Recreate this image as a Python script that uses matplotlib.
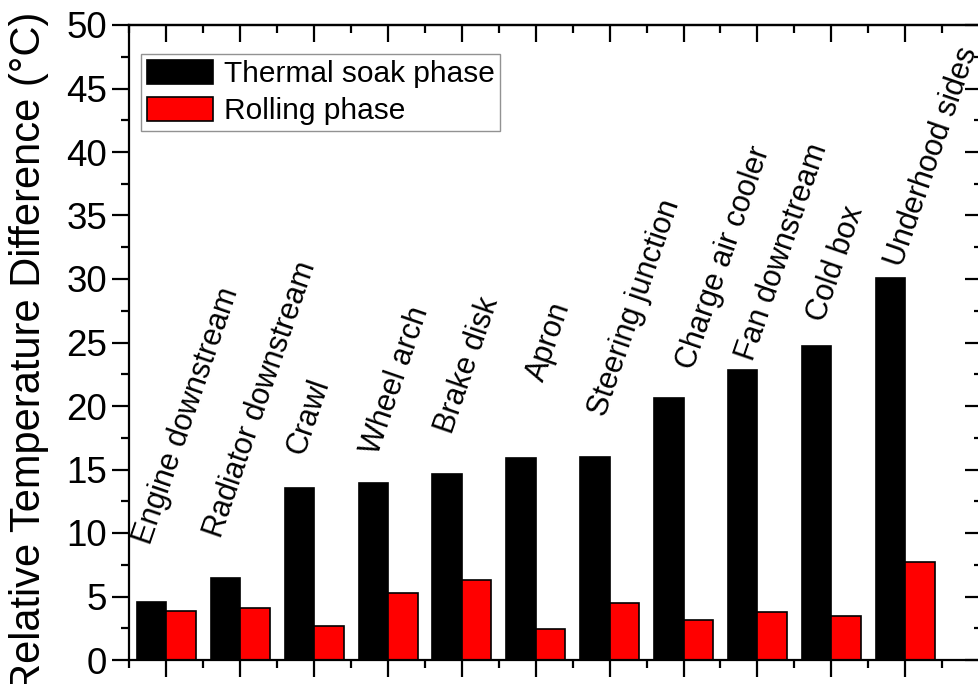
import numpy as np
import matplotlib.pyplot as plt
from matplotlib.ticker import MultipleLocator, FixedLocator, NullFormatter

plt.rcParams['font.family'] = ['Liberation Sans', 'DejaVu Sans']

# data
locations = ["Engine downstream", "Radiator downstream", "Crawl", "Wheel arch",
             "Brake disk", "Apron", "Steering junction", "Charge air cooler",
             "Fan downstream", "Cold box", "Underhood sides"]
thermal_soak = [4.55, 6.45, 13.55, 13.95, 14.65, 15.9, 15.95, 20.6, 22.8, 24.7, 30.05]
rolling = [3.85, 4.1, 2.7, 5.3, 6.3, 2.45, 4.5, 3.15, 3.8, 3.45, 7.7]

# where each rotated category label starts (offset from group centre, height)
label_dx = [-0.22, -0.26, -0.14, -0.13, -0.14, 0.10, -0.06, 0.13, -0.06, -0.10, -0.04]
label_y = [9.0, 9.5, 16.1, 16.1, 17.7, 21.8, 19.1, 22.8, 23.5, 26.5, 30.9]

x = np.arange(1, len(locations) + 1)
w = 0.4

fig = plt.figure(figsize=(9.79, 6.84), dpi=100)
ax = fig.add_axes([129.5 / 979, 1 - 660 / 684, (982 - 129.5) / 979, (660 - 25) / 684])

ax.bar(x - w / 2, thermal_soak, w, color='black', edgecolor='black', linewidth=1.2,
       label='Thermal soak phase')
ax.bar(x + w / 2, rolling, w, color='#ff0000', edgecolor='black', linewidth=1.2,
       label='Rolling phase')

for xi, name, dx, ly in zip(x, locations, label_dx, label_y):
    ax.text(xi + dx, ly, name, rotation=71, rotation_mode='anchor',
            ha='left', va='baseline', fontsize=22, clip_on=False)

ax.set_xlim(0.5, 12.04)
ax.set_ylim(0, 50)

ax.yaxis.set_major_locator(MultipleLocator(5))
ax.yaxis.set_minor_locator(MultipleLocator(2.5))
ax.xaxis.set_major_locator(FixedLocator(x))
ax.xaxis.set_minor_locator(FixedLocator(np.arange(0.5, 12.5, 1)))
ax.xaxis.set_major_formatter(NullFormatter())

for sp in ax.spines.values():
    sp.set_linewidth(1.6)

ax.tick_params(axis='both', which='both', width=1.6, direction='out', top=False, right=False)
ax.tick_params(axis='y', which='major', length=12, labelsize=26.5, pad=4)
ax.tick_params(axis='y', which='minor', length=6)
ax.tick_params(axis='x', which='major', length=12)
ax.tick_params(axis='x', which='minor', length=6)

# inward ticks on top and right like the original
ax2 = ax.secondary_xaxis('top')
ax2.xaxis.set_major_locator(FixedLocator(x))
ax2.xaxis.set_minor_locator(FixedLocator(np.arange(0.5, 12.5, 1)))
ax2.xaxis.set_major_formatter(NullFormatter())
ax2.tick_params(which='major', direction='in', length=12, width=1.6)
ax2.tick_params(which='minor', direction='in', length=6, width=1.6)
ax2.spines['top'].set_linewidth(1.6)

ax3 = ax.secondary_yaxis('right')
ax3.yaxis.set_major_locator(MultipleLocator(5))
ax3.yaxis.set_minor_locator(MultipleLocator(2.5))
ax3.yaxis.set_major_formatter(NullFormatter())
ax3.tick_params(which='major', direction='in', length=12, width=1.6)
ax3.tick_params(which='minor', direction='in', length=6, width=1.6)

ax.set_ylabel('Relative Temperature Difference (°C)', fontsize=30)
ax.yaxis.set_label_coords(-0.094, 0.485)

leg = ax.legend(loc='upper left', bbox_to_anchor=(0.014, 0.955), fontsize=21.5,
                frameon=True, fancybox=False, edgecolor='#777777',
                handlelength=2.2, handleheight=0.9, labelspacing=0.28,
                handletextpad=0.35, borderpad=0.2, borderaxespad=0)
leg.get_frame().set_linewidth(1.0)

fig.savefig('out.png', dpi=100)
